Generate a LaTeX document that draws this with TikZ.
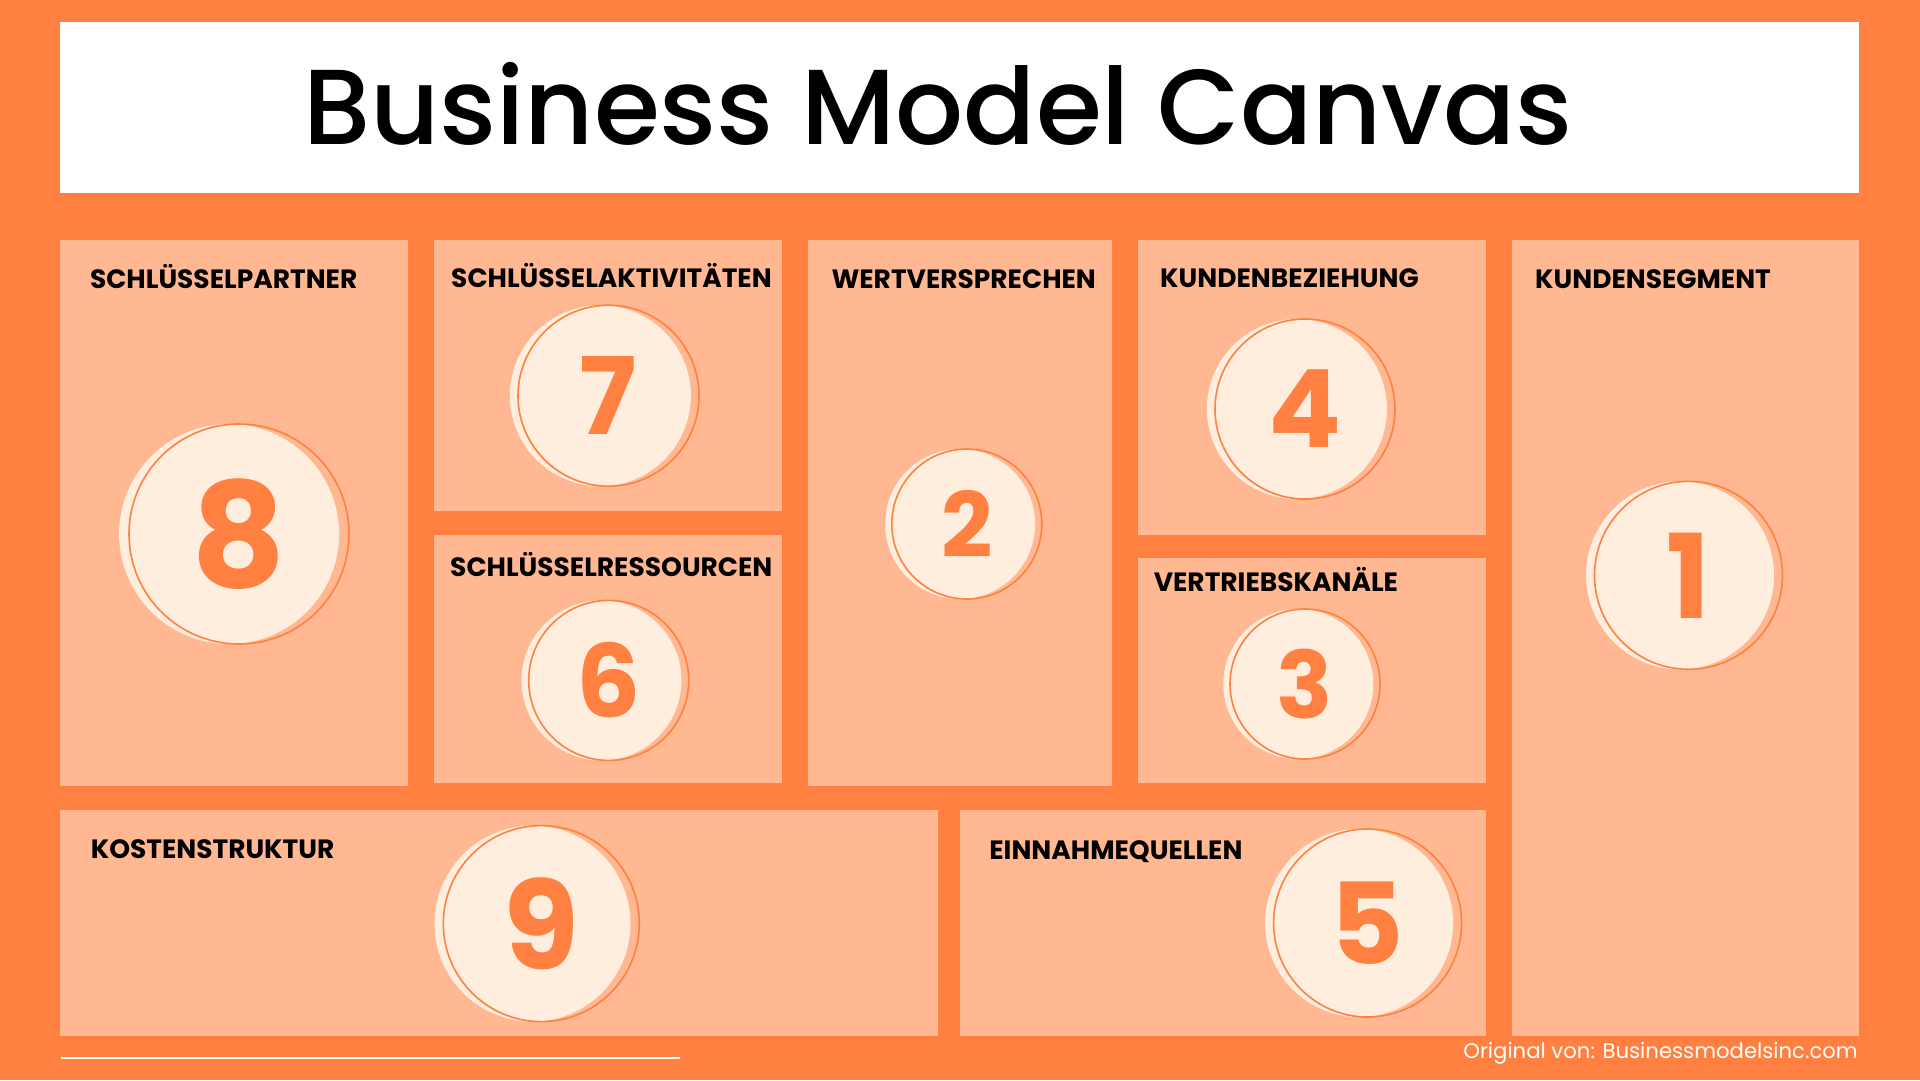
\documentclass[tikz,border=0pt]{standalone}
\usepackage{fontspec}
\setmainfont{Poppins}
\newfontfamily\titlefont{Poppins Medium}
\definecolor{bgorange}{HTML}{FF8040}
\definecolor{boxfill}{HTML}{FFB892}
\definecolor{cream}{HTML}{FFEDDE}
\tikzset{
  cell/.style={fill=boxfill, draw=none},
  lbl/.style={anchor=base west, inner sep=0pt, text=black, font=\bfseries\fontsize{26.5}{30}\selectfont},
  ring/.style={circle, draw=bgorange, line width=1.6pt, inner sep=0pt, minimum size=#1, text=bgorange},
  disc/.style={circle, fill=cream, inner sep=0pt, minimum size=#1},
}
\newcommand\bmcnum[6]{%
  \node[disc=#4pt] (#1s) at ({#2-0.045*#4},#3) {};
  \node[ring=#4pt, font=\bfseries\fontsize{#6}{#6}\selectfont] (#1) at (#2,#3) {#5};
}
\begin{document}
\begin{tikzpicture}[x=1pt,y=-1pt]
  \fill[bgorange] (0,0) rectangle (1920,1080);
  % banner
  \fill[white] (60,22) rectangle (1859,193);
  \node[anchor=base west, inner sep=0pt, text=black, font=\titlefont\fontsize{106.7}{118}\selectfont] (title) at (303,144) {Business Model Canvas};
  % cells
  \fill[cell] (60,239.5) rectangle (408,786);
  \fill[cell] (434,239.5) rectangle (782,511);
  \fill[cell] (434,535) rectangle (782,782.5);
  \fill[cell] (808,239.5) rectangle (1112,786);
  \fill[cell] (1138,239.5) rectangle (1486,534.5);
  \fill[cell] (1138,558) rectangle (1486,782.5);
  \fill[cell] (1512,239.5) rectangle (1859,1036);
  \fill[cell] (60,810) rectangle (937.5,1036);
  \fill[cell] (960,810) rectangle (1486,1036);
  % labels
  \node[lbl] (lpartner) at (89.8,288) {SCHLÜSSELPARTNER};
  \node[lbl] (lakt) at (451,287.7) {SCHLÜSSELAKTIVITÄTEN};
  \node[lbl] (lwert) at (831.3,288.2) {WERTVERSPRECHEN};
  \node[lbl] (lkbz) at (1160,287.4) {KUNDENBEZIEHUNG};
  \node[lbl] (lkseg) at (1535,288.3) {KUNDENSEGMENT};
  \node[lbl] (lres) at (450,576) {SCHLÜSSELRESSOURCEN};
  \node[lbl] (lvk) at (1153.6,591.7) {VERTRIEBSKANÄLE};
  \node[lbl] (lkost) at (90.6,858.2) {KOSTENSTRUKTUR};
  \node[lbl] (lein) at (989.2,859) {EINNAHMEQUELLEN};
  % numbered circles
  \bmcnum{c8}{239}{534}{220}{8}{146}
  \bmcnum{c7}{608.5}{395.7}{181}{7}{107}
  \bmcnum{c6}{608.7}{680.4}{160}{6}{101}
  \bmcnum{c2}{966.8}{524}{150}{2}{90}
  \bmcnum{c4}{1305}{409}{180}{4}{108}
  \bmcnum{c3}{1305}{684}{150}{3}{93}
  \bmcnum{c1}{1688.5}{575.3}{188}{1}{117}
  \bmcnum{c9}{541.3}{923.6}{196}{9}{123}
  \bmcnum{c5}{1367.6}{923}{188}{5}{113}
  % footer
  \coordinate (lineA) at (61,1057.5);
  \coordinate (lineB) at (680,1057.5);
  \draw[white, line width=2pt] (lineA) -- (lineB);
  \node[anchor=base east, inner sep=0pt, text=white, font=\fontsize{21.2}{24}\selectfont] (credit) at (1858,1058.3) {Original von: Businessmodelsinc.com};
\end{tikzpicture}
\end{document}
